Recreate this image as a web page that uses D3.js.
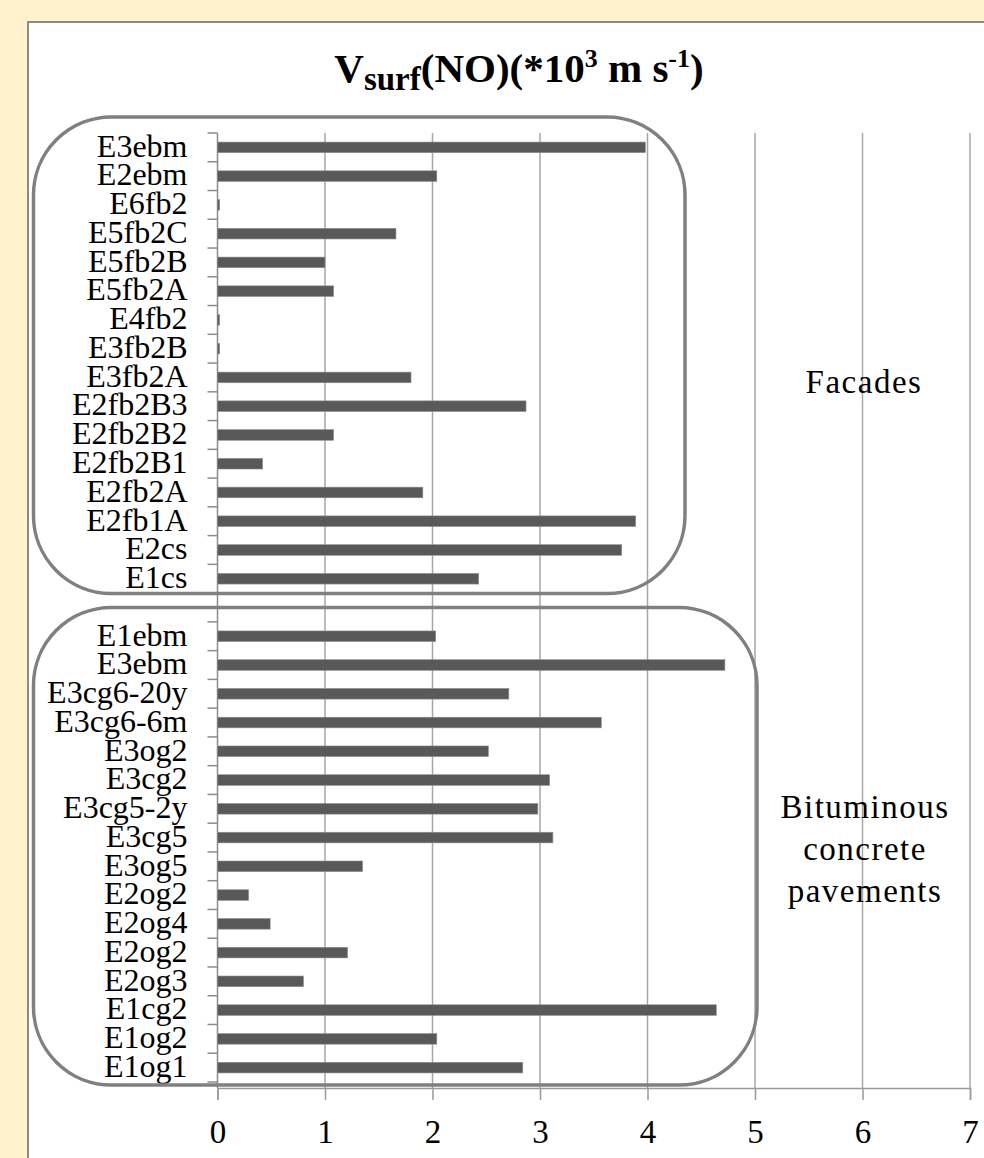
<!DOCTYPE html>
<html>
<head>
<meta charset="utf-8">
<script src="https://cdn.jsdelivr.net/npm/d3@7"></script>
<style>
    body { margin: 0; background: #FFF2CC; }
    svg text { font-family: "Liberation Serif", "Times New Roman", serif; }
</style>
</head>
<body>
<div id="center"></div>
<script>
// top to bottom, as in the chart
let facadeNames = ["E3ebm", "E2ebm", "E6fb2", "E5fb2C", "E5fb2B", "E5fb2A", "E4fb2", "E3fb2B",
    "E3fb2A", "E2fb2B3", "E2fb2B2", "E2fb2B1", "E2fb2A", "E2fb1A", "E2cs", "E1cs"];
let facadeValues = [3.98, 2.04, 0.02, 1.66, 1.0, 1.08, 0.02, 0.02,
    1.8, 2.87, 1.08, 0.42, 1.91, 3.89, 3.76, 2.43];
let pavementNames = ["E1ebm", "E3ebm", "E3cg6-20y", "E3cg6-6m", "E3og2", "E3cg2", "E3cg5-2y", "E3cg5",
    "E3og5", "E2og2", "E2og4", "E2og2", "E2og3", "E1cg2", "E1og2", "E1og1"];
let pavementValues = [2.03, 4.72, 2.71, 3.57, 2.52, 3.09, 2.98, 3.12,
    1.35, 0.29, 0.49, 1.21, 0.8, 4.64, 2.04, 2.84];
let xTicks = [0, 1, 2, 3, 4, 5, 6, 7];
let facadeLabel = ["Facades"];
let pavementLabel = ["Bituminous", "concrete", "pavements"];

let width = 984;
let height = 1158;
const svg = d3.select("#center").append("svg")
    .attr("width", width)
    .attr("height", height)

// one empty row sits between the two groups
let rows = [];
facadeNames.forEach(function (n, i) { rows.push({ name: n, value: facadeValues[i] }); });
rows.push({ name: "", value: null });
pavementNames.forEach(function (n, i) { rows.push({ name: n, value: pavementValues[i] }); });
rows.forEach(function (d, i) { d.key = i; });

// white chart panel
svg.append("rect")
    .attr("x", 28).attr("y", 22)
    .attr("width", width).attr("height", height)
    .attr("fill", "white")
    .attr("stroke", "#8a8a8a")
    .attr("stroke-width", 2)

let xlinear = d3.scaleLinear().domain([0, 7]).range([217.5, 970]);
let yband = d3.scaleBand()
    .domain(rows.map(function (d) { return d.key; }))
    .range([133, 1082])
    .paddingInner(0.63)
    .paddingOuter(0.315);
let axisY0 = 1088;

// vertical gridlines
svg.append("g").selectAll("line")
    .data(xTicks)
    .enter()
    .append("line")
    .attr("x1", function (d) { return xlinear(d); })
    .attr("x2", function (d) { return xlinear(d); })
    .attr("y1", yband.range()[0])
    .attr("y2", axisY0)
    .attr("stroke", function (d) { return d === 0 ? "#8c8c8c" : "#a6a6a6"; })
    .attr("stroke-width", 1.5)

// category tick marks on band edges
svg.append("g").selectAll("line")
    .data(d3.range(rows.length + 1))
    .enter()
    .append("line")
    .attr("x1", xlinear(0) - 10)
    .attr("x2", xlinear(0))
    .attr("y1", function (i) { return yband.range()[0] + i * yband.step(); })
    .attr("y2", function (i) { return yband.range()[0] + i * yband.step(); })
    .attr("stroke", "#8c8c8c")
    .attr("stroke-width", 1.5)

// bars
svg.append("g").selectAll("rect")
    .data(rows.filter(function (d) { return d.value !== null; }))
    .enter()
    .append("rect")
    .attr("x", xlinear(0))
    .attr("y", function (d) { return yband(d.key); })
    .attr("width", function (d) { return xlinear(d.value) - xlinear(0); })
    .attr("height", yband.bandwidth())
    .attr("fill", "#595959")
    .attr("stroke", "#8f8f8f")
    .attr("stroke-width", 0.6)

// category labels
let axisY = d3.axisLeft(yband)
    .tickSize(0)
    .tickPadding(30)
    .tickFormat(function (k) { return rows[k].name; });
let gy = svg.append("g")
    .attr("transform", "translate(" + xlinear(0) + ",0)")
    .call(axisY)
gy.select(".domain").remove();
gy.selectAll("text")
    .attr("font-family", "Liberation Serif")
    .attr("font-size", 32)
    .attr("fill", "black")
    .attr("dy", "0.29em")

// value axis
let axisX = d3.axisBottom(xlinear)
    .tickValues(xTicks)
    .tickSize(12)
    .tickPadding(20)
    .tickFormat(d3.format("d"));
let gx = svg.append("g")
    .attr("transform", "translate(0," + axisY0 + ")")
    .call(axisX)
gx.select(".domain").attr("stroke", "#9a9a9a").attr("stroke-width", 1.5);
gx.selectAll(".tick line").attr("stroke", "#9a9a9a").attr("stroke-width", 1.5);
gx.selectAll("text")
    .attr("font-family", "Liberation Serif")
    .attr("font-size", 33)
    .attr("fill", "black")

// rounded group frames
let frames = [
    { x: 33.5, y: 117, w: 651.5, h: 476.5 },
    { x: 33.5, y: 607.5, w: 723.5, h: 477.5 }
];
svg.append("g").selectAll("rect")
    .data(frames)
    .enter()
    .append("rect")
    .attr("x", function (d) { return d.x; })
    .attr("y", function (d) { return d.y; })
    .attr("width", function (d) { return d.w; })
    .attr("height", function (d) { return d.h; })
    .attr("rx", 78)
    .attr("ry", 78)
    .attr("fill", "none")
    .attr("stroke", "#808080")
    .attr("stroke-width", 3.5)

// group names
svg.append("text")
    .attr("x", 864).attr("y", 393)
    .attr("text-anchor", "middle")
    .attr("font-size", 33)
    .attr("letter-spacing", 1.5)
    .text(facadeLabel[0])
svg.append("g").selectAll("text")
    .data(pavementLabel)
    .enter()
    .append("text")
    .attr("x", 865)
    .attr("y", function (d, i) { return 818 + i * 42; })
    .attr("text-anchor", "middle")
    .attr("font-size", 33)
    .attr("letter-spacing", 1.5)
    .text(function (d) { return d; })

// title
let title = svg.append("text")
    .attr("x", 519).attr("y", 82)
    .attr("text-anchor", "middle")
    .attr("font-size", 41)
    .attr("font-weight", "bold")
title.append("tspan").text("V");
title.append("tspan").attr("font-size", 33).attr("dy", 8).text("surf");
title.append("tspan").attr("dy", -8).text("(NO)(*10");
title.append("tspan").attr("font-size", 26).attr("dy", -15).text("3");
title.append("tspan").attr("dy", 15).text(" m s");
title.append("tspan").attr("font-size", 26).attr("dy", -15).text("-1");
title.append("tspan").attr("dy", 15).text(")");
</script>
</body>
</html>
